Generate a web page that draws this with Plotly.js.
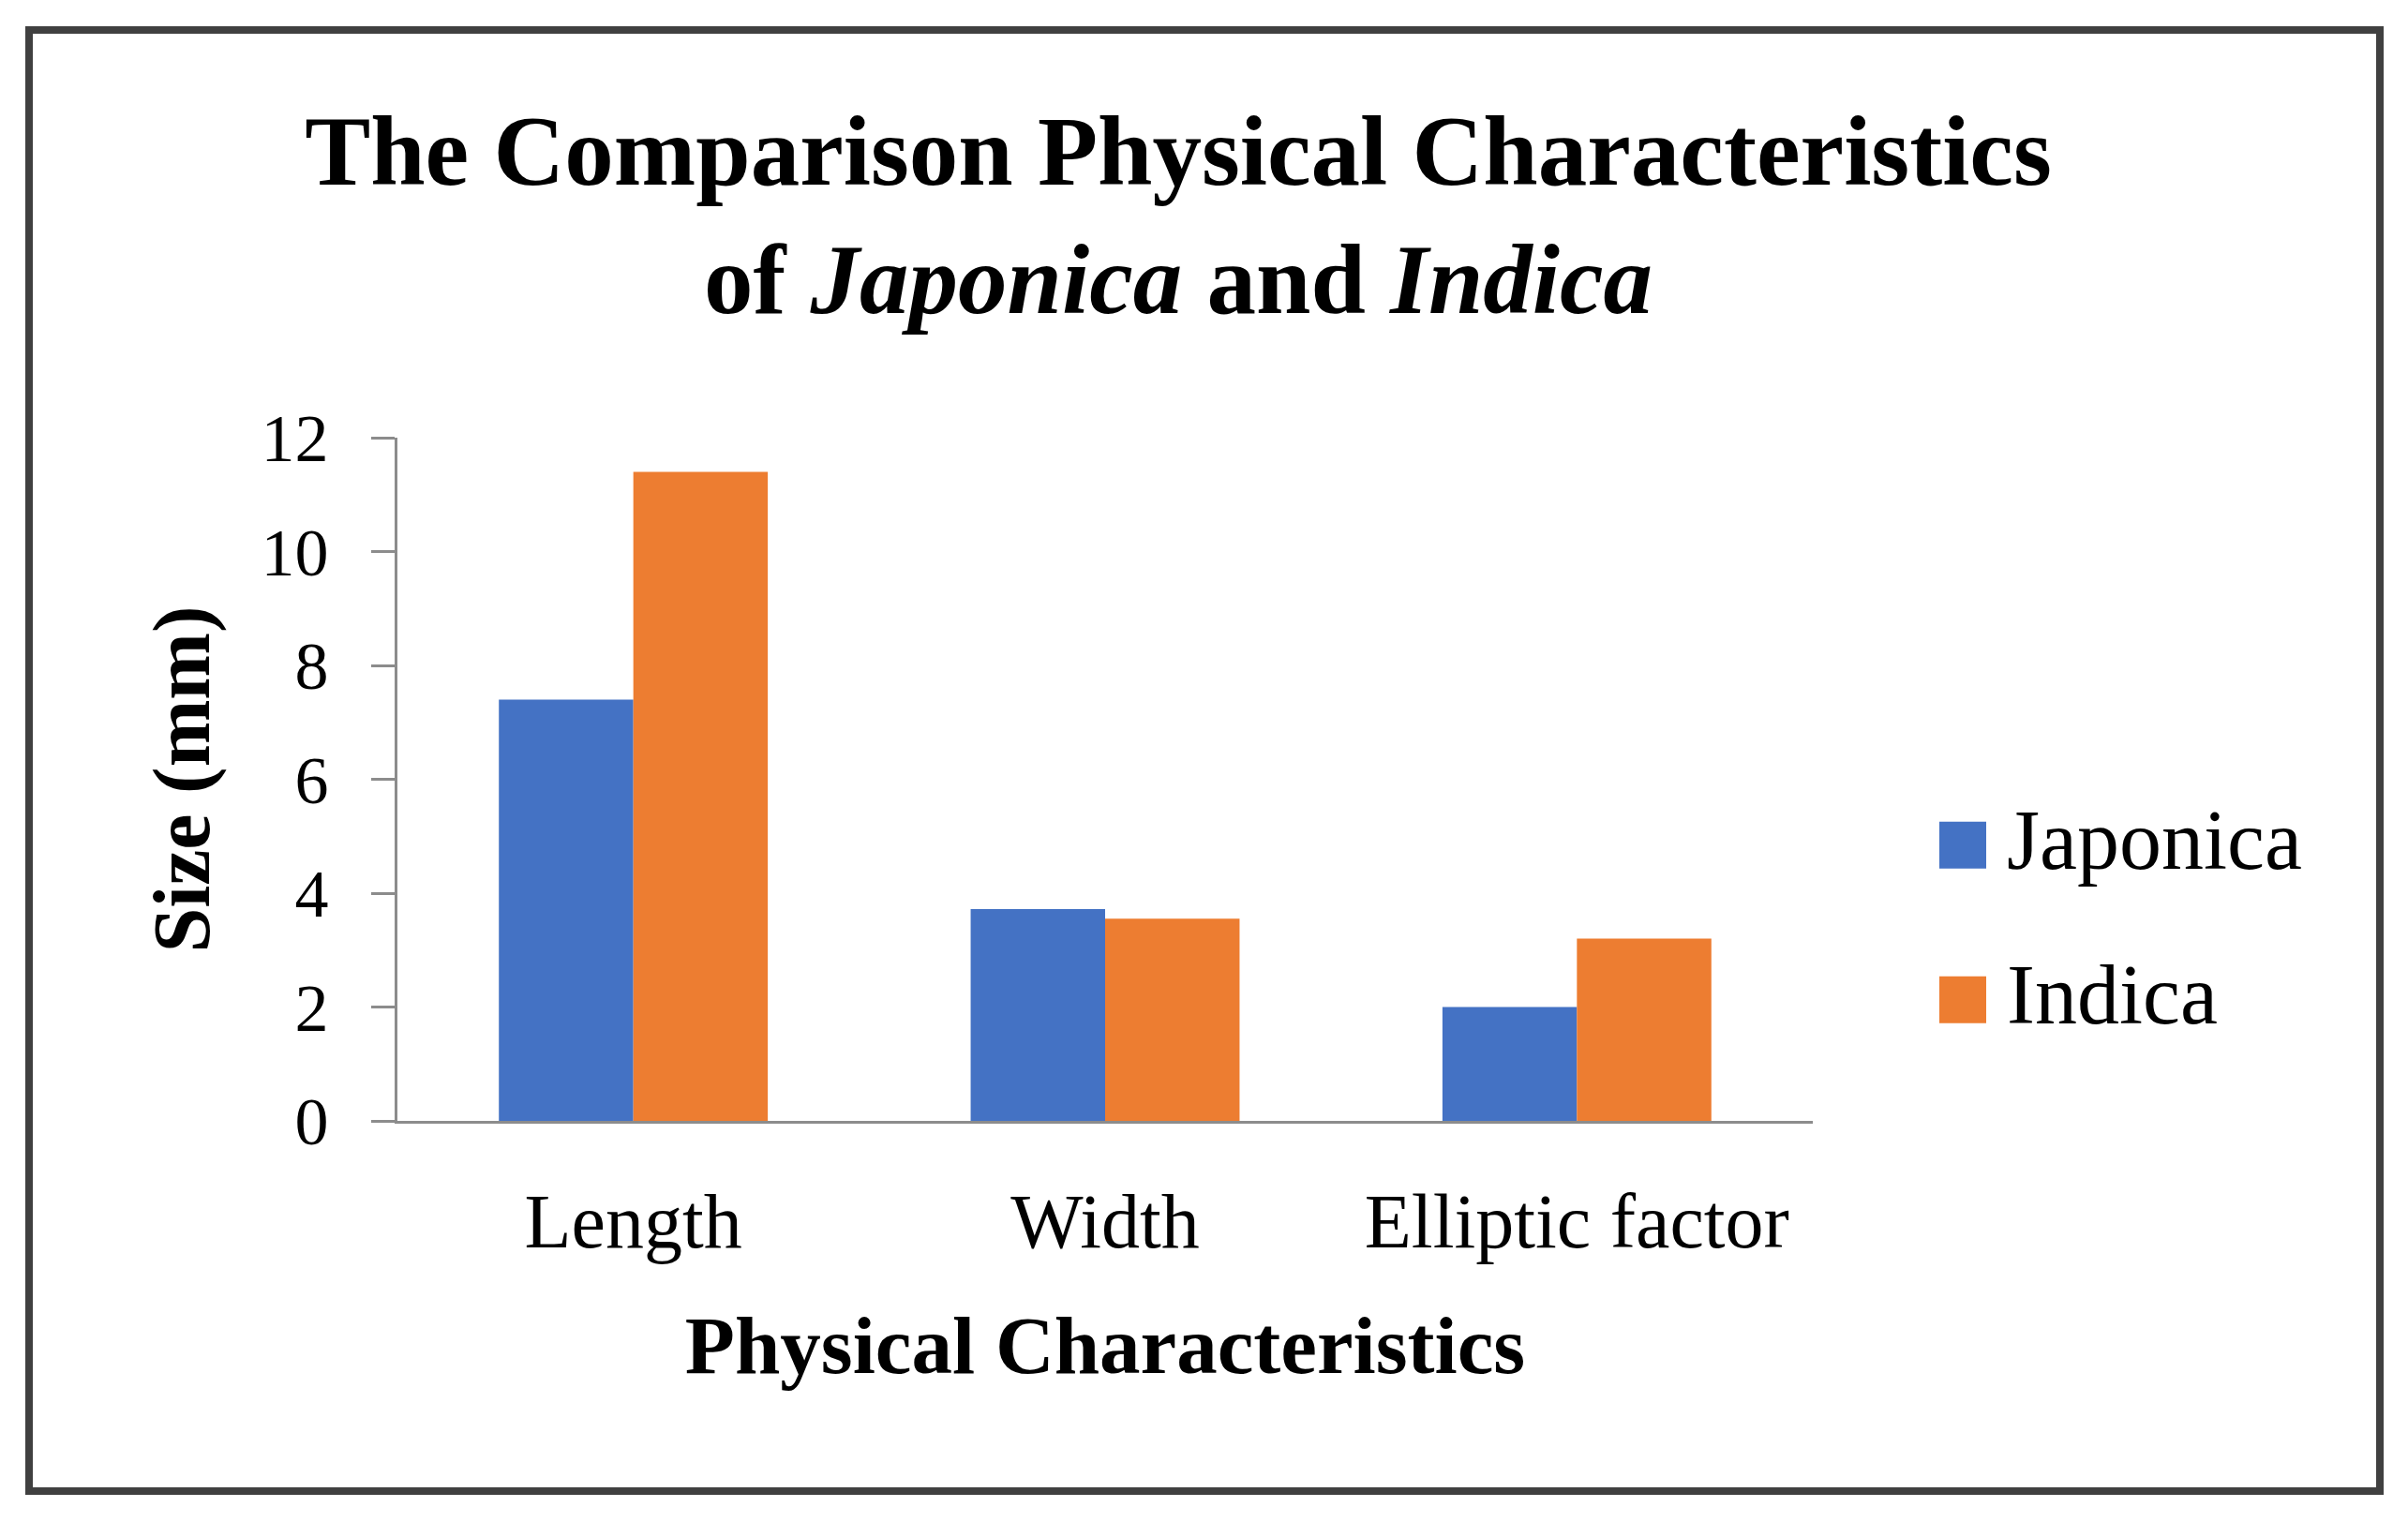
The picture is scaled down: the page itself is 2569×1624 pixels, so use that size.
<!DOCTYPE html>
<html>
<head>
<meta charset="utf-8">
<script src="https://cdn.plot.ly/plotly-3.0.1.min.js"></script>
<style>html,body{margin:0;padding:0;background:#fff;}#chart{width:2569px;height:1624px;}</style>
</head>
<body>
<div id="chart"></div>
<script>
const categories = ["Length", "Width", "Elliptic factor"];
const seriesNames = ["Japonica", "Indica"];
const japonica = [7.4, 3.72, 2.0];
const indica = [11.4, 3.55, 3.2];
const yTicks = [0, 2, 4, 6, 8, 10, 12];

const FONT = "Liberation Serif, Times New Roman, serif";
const W = 2569, H = 1624;
const L = 424, R = 1934, T = 467, B = 1196;
const pw = R - L, ph = B - T;
const px = v => (v - L) / pw;
const py = v => (B - v) / ph;

const traces = [
  {type: "bar", name: seriesNames[0], x: categories, y: japonica, legendgroup: "a",
   marker: {color: "#4472C4", line: {width: 0}}},
  {type: "bar", name: seriesNames[1], x: categories, y: indica, legendgroup: "b",
   marker: {color: "#ED7D31", line: {width: 0}}}
];

const layout = {
  width: W, height: H,
  paper_bgcolor: "#ffffff", plot_bgcolor: "#ffffff",
  margin: {l: L, r: W - R, t: T, b: H - B, pad: 0},
  barmode: "group", bargap: 0.43, bargroupgap: 0,
  font: {family: FONT, color: "#000000"},
  title: {
    text: "The Comparison Physical Characteristics<br>of <i>Japonica</i> and <i>Indica</i>",
    font: {family: FONT, size: 105, color: "#000000", weight: "bold"},
    xref: "container", x: 1257 / W, xanchor: "center",
    yref: "container", y: 1 - 197 / H, yanchor: "top"
  },
  xaxis: {
    type: "category", range: [-0.5, 2.5],
    showline: true, linecolor: "#8c8c8c", linewidth: 3,
    ticks: "", showgrid: false, zeroline: false,
    tickfont: {family: FONT, size: 82, color: "#000000"},
    ticklabelstandoff: 34,
    title: {text: "Physical Characteristics", standoff: 56,
      font: {family: FONT, size: 87, color: "#000000", weight: "bold"}}
  },
  yaxis: {
    range: [0, 12], tickvals: yTicks, ticktext: yTicks.map(String),
    showline: true, linecolor: "#8c8c8c", linewidth: 3,
    ticks: "outside", ticklen: 25, tickwidth: 3, tickcolor: "#8c8c8c",
    showgrid: false, zeroline: false,
    tickfont: {family: FONT, size: 72, color: "#000000"},
    ticklabelstandoff: 31,
    title: {text: "Size (mm)", standoff: 27,
      font: {family: FONT, size: 86, color: "#000000", weight: "bold"}}
  },
  showlegend: true,
  legend: {
    x: px(2051), xanchor: "left", y: py(827), yanchor: "top",
    font: {family: FONT, size: 90, color: "#000000"},
    itemwidth: 80, traceorder: "grouped", tracegroupgap: 45,
    bgcolor: "rgba(0,0,0,0)", borderwidth: 0
  },
  shapes: [{
    type: "rect", xref: "paper", yref: "paper",
    x0: px(31), x1: px(2539), y0: py(1591), y1: py(32),
    line: {color: "#404040", width: 8}, fillcolor: "rgba(0,0,0,0)", layer: "above"
  }]
};

Plotly.newPlot("chart", traces, layout, {displayModeBar: false, staticPlot: true}).then(gd => {
  const SQ = 50, GAP = 22, FS = 90;
  gd.querySelectorAll(".legend .traces").forEach(tr => {
    const txt = tr.querySelector("text.legendtext");
    const path = tr.querySelector(".legendpoints path");
    if (!txt || !path) return;
    const tb = txt.getBoundingClientRect();
    const baseline = tb.bottom - 0.216 * FS;
    const left = tb.left - GAP - SQ, top = baseline - SQ;
    const m = path.parentNode.getScreenCTM().inverse();
    const p0 = new DOMPoint(left, top).matrixTransform(m);
    const p1 = new DOMPoint(left + SQ, top + SQ).matrixTransform(m);
    path.setAttribute("d", `M${p0.x},${p0.y}H${p1.x}V${p1.y}H${p0.x}Z`);
    path.removeAttribute("transform");
  });
});
</script>
</body>
</html>
